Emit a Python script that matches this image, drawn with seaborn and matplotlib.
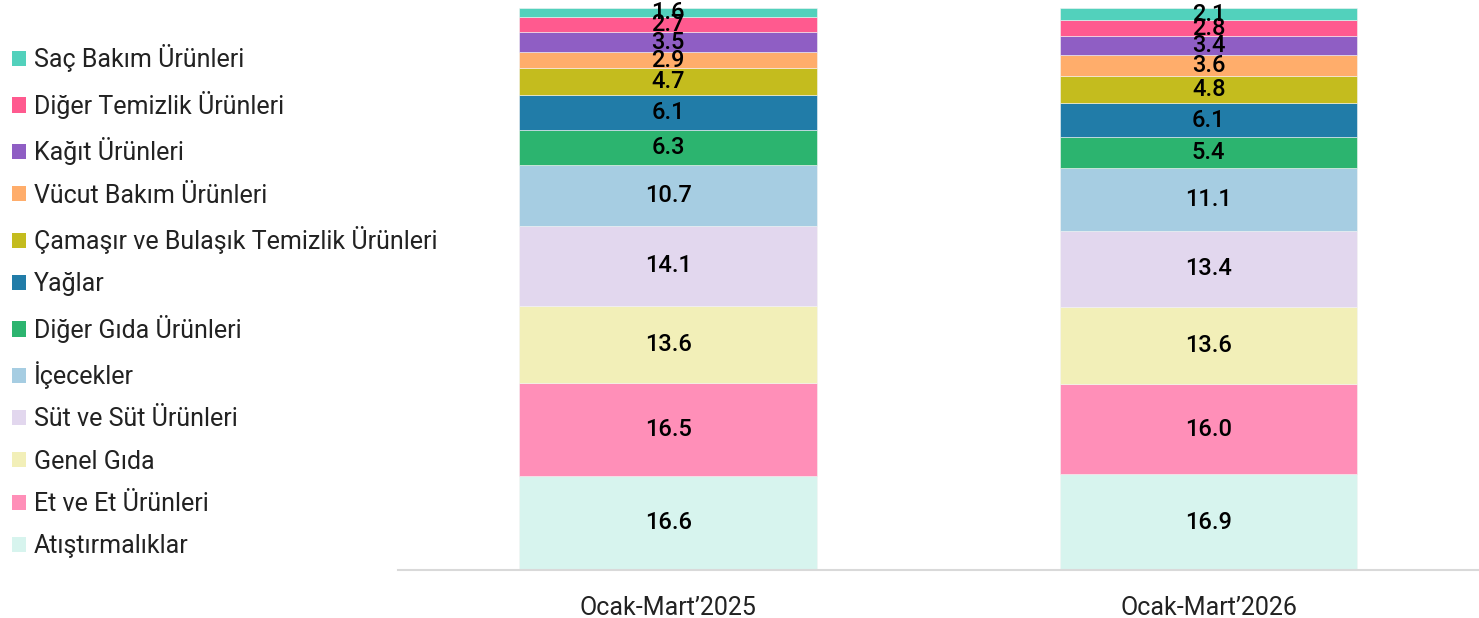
import numpy
import pandas
import seaborn
import matplotlib.pyplot as plt
from matplotlib.patches import Patch

# categories, bottom of the stack first
categories = [
    "Atıştırmalıklar",
    "Et ve Et Ürünleri",
    "Genel Gıda",
    "Süt ve Süt Ürünleri",
    "İçecekler",
    "Diğer Gıda Ürünleri",
    "Yağlar",
    "Çamaşır ve Bulaşık Temizlik Ürünleri",
    "Vücut Bakım Ürünleri",
    "Kağıt Ürünleri",
    "Diğer Temizlik Ürünleri",
    "Saç Bakım Ürünleri",
]
periods = ["Ocak-Mart’2025", "Ocak-Mart’2026"]
values_2025 = [16.6, 16.5, 13.6, 14.1, 10.7, 6.3, 6.1, 4.7, 2.9, 3.5, 2.7, 1.6]
values_2026 = [16.9, 16.0, 13.6, 13.4, 11.1, 5.4, 6.1, 4.8, 3.6, 3.4, 2.8, 2.1]
colors = [
    "#d7f4ee", "#ff8fb8", "#f2efb8", "#e2d7ee", "#a6cde2", "#2cb46f",
    "#217ca8", "#c4bc1e", "#ffad6b", "#8f5ec4", "#ff5a8f", "#52d1bc",
]

df = pandas.DataFrame({periods[0]: values_2025, periods[1]: values_2026}, index=categories)

seaborn.set_theme(style="white")
plt.rcParams["font.family"] = ["Roboto", "DejaVu Sans"]

fig = plt.figure(figsize=(14.79, 6.18), dpi=100)
ax = fig.add_axes([0.269, 0.0777, 0.731, 0.916])

# stacked bars, one call per category
bottoms = numpy.zeros(len(periods))
for cat, color in zip(categories, colors):
    vals = df.loc[cat].values
    seaborn.barplot(
        x=periods, y=vals, bottom=bottoms, color=color, width=0.55,
        saturation=1, linewidth=0.4, edgecolor="#f4f4f4", ax=ax,
    )
    ax.bar_label(ax.containers[-1], labels=[f"{v:.1f}" for v in vals],
                 label_type="center", fontsize=17, color="black",
                 fontweight="medium")
    bottoms = bottoms + vals

ax.set_xlim(-0.5, 1.5)
ax.set_ylim(0, 100)
ax.set_yticks([])
ax.set_xlabel("")
ax.set_ylabel("")
ax.tick_params(axis="x", length=0, pad=19, labelsize=18, labelcolor="#222222")
for side in ["left", "right", "top"]:
    ax.spines[side].set_visible(False)
ax.spines["bottom"].set_color("#d9d9d9")
ax.spines["bottom"].set_linewidth(1.5)

handles = [Patch(facecolor=c, edgecolor="none") for c in colors][::-1]
fig.legend(
    handles, categories[::-1], loc="upper left", bbox_to_anchor=(0.008, 0.928),
    frameon=False, fontsize=18, handlelength=0.56, handleheight=0.56,
    handletextpad=0.32, labelspacing=0.735, borderaxespad=0, borderpad=0,
    labelcolor="#222222",
)

fig.savefig("out.png", dpi=100)
